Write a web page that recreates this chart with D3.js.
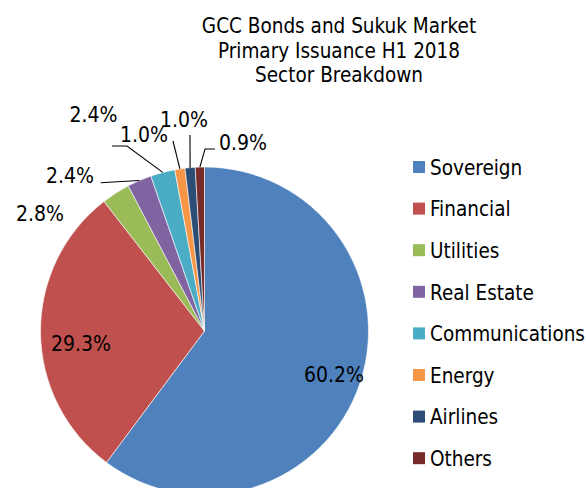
<!DOCTYPE html>
<html>
<head>
<meta charset="utf-8">
<script src="https://cdn.jsdelivr.net/npm/d3@7"></script>
<style>
  html, body { margin: 0; padding: 0; background: #fff; }
  svg { display: block; }
  text { font-family: "DejaVu Sans Condensed", "DejaVu Sans", sans-serif; fill: #000; }
</style>
</head>
<body>
<svg id="chart" width="586" height="488"></svg>
<script>
// ---- data ----
const titleLines = ["GCC Bonds and Sukuk Market", "Primary Issuance H1 2018", "Sector Breakdown"];
const categories = ["Sovereign", "Financial", "Utilities", "Real Estate", "Communications", "Energy", "Airlines", "Others"];
const shares = [60.2, 29.3, 2.8, 2.4, 2.4, 1.0, 1.0, 0.9];
const colors = ["#4F81BD", "#C0504D", "#9BBB59", "#8064A2", "#4BACC6", "#F79646", "#2C4D75", "#772C2A"];

// ---- layout (label placement relative to pie centre; leader start points) ----
const labelLayout = [
  { dx: 129.5, dy: 51, leader: [] },
  { dx: -123.5, dy: 20, leader: [] },
  { dx: -164.5, dy: -110, leader: [] },
  { dx: -134.5, dy: -148.5, leader: [[-103.8, -148.3]] },
  { dx: -111, dy: -209.3, leader: [[-92.5, -185], [-77.5, -185]] },
  { dx: -60.5, dy: -189, leader: [[-31.5, -190]] },
  { dx: -20.5, dy: -204, leader: [[-14.5, -196]] },
  { dx: 38.5, dy: -181, leader: [[10.5, -182], [0.5, -182]] }
];

const svg = d3.select("#chart");
const W = 586, H = 488;
const cx = 204.5, cy = 331, r = 164;

// title
svg.append("g").selectAll("text").data(titleLines).join("text")
  .attr("x", 339).attr("y", (d, i) => 33 + i * 24.6)
  .attr("text-anchor", "middle")
  .style("font-size", "20.5px")
  .text(d => d);

const data = categories.map((c, i) => ({ name: c, value: shares[i], color: colors[i], layout: labelLayout[i] }));

const pie = d3.pie().value(d => d.value).sort(null).startAngle(0).endAngle(2 * Math.PI);
const arcs = pie(data);
const arc = d3.arc().innerRadius(0).outerRadius(r);

const g = svg.append("g").attr("transform", `translate(${cx},${cy})`);
g.selectAll("path").data(arcs).join("path")
  .attr("d", arc)
  .attr("fill", d => d.data.color)
  .attr("stroke", "#fff")
  .attr("stroke-width", 0.6);

// leader lines
const line = d3.line();
g.selectAll("path.leader").data(arcs.filter(d => d.data.layout.leader.length)).join("path")
  .attr("class", "leader")
  .attr("fill", "none")
  .attr("stroke", "#000")
  .attr("stroke-width", 1.1)
  .attr("d", d => {
    const mid = (d.startAngle + d.endAngle) / 2;
    const end = [r * Math.sin(mid), -r * Math.cos(mid)];
    return line([...d.data.layout.leader, end]);
  });

// data labels
g.selectAll("text.lbl").data(arcs).join("text")
  .attr("class", "lbl")
  .attr("x", d => d.data.layout.dx)
  .attr("y", d => d.data.layout.dy)
  .attr("text-anchor", "middle")
  .style("font-size", "21px")
  .text(d => d3.format(".1f")(d.data.value) + "%");

// legend
const legend = svg.append("g").attr("transform", "translate(413,167)");
const rows = legend.selectAll("g").data(data).join("g")
  .attr("transform", (d, i) => `translate(0,${i * 41.6})`);
rows.append("rect").attr("x", 0).attr("y", -6).attr("width", 12).attr("height", 12)
  .attr("fill", d => d.color);
rows.append("text").attr("x", 17).attr("y", 7.8)
  .style("font-size", "20.5px")
  .text(d => d.name);
</script>
</body>
</html>
